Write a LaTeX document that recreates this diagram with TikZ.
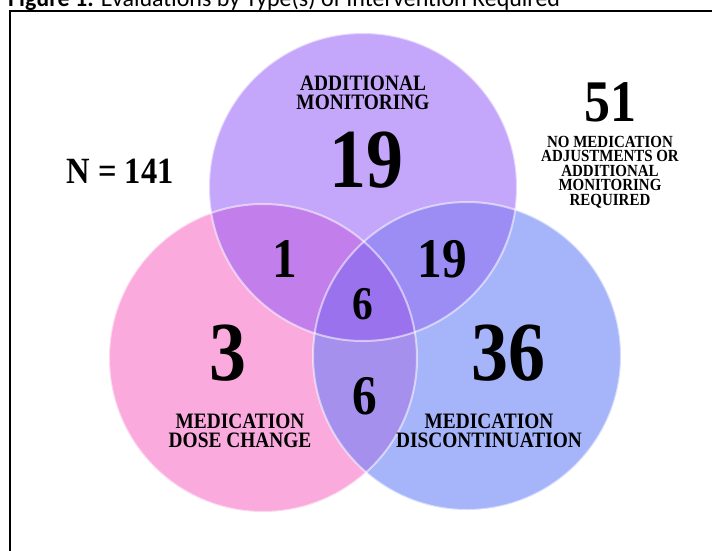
\documentclass[tikz,border=0pt]{standalone}
\usepackage{fontspec}
\setmainfont{Liberation Serif}
\newfontfamily\vennfont{Liberation Serif}[FakeStretch=0.88]
\newfontfamily\capfont{Carlito}
\usepackage{tikz}
\usetikzlibrary{positioning}
\definecolor{monc}{RGB}{196,166,250}
\definecolor{dosec}{RGB}{250,170,220}
\definecolor{discc}{RGB}{166,180,250}
\definecolor{mondose}{RGB}{194,126,234}
\definecolor{mondisc}{RGB}{156,141,245}
\definecolor{dosedisc}{RGB}{166,144,238}
\definecolor{allc}{RGB}{154,114,238}
\tikzset{
    bignum/.style={font=\vennfont\bfseries\fontsize{84}{84}\selectfont,inner sep=0pt},
    midnum/.style={font=\vennfont\bfseries\fontsize{56}{56}\selectfont,inner sep=0pt},
    lbl/.style={align=center,inner sep=0pt,font=\vennfont\bfseries\fontsize{22}{18.5}\selectfont},
    ring/.style={draw=white,draw opacity=0.55,line width=2pt},
}
\newcommand{\rad}{154}

\begin{document}
\begin{tikzpicture}[x=1pt,y=-1pt]
\useasboundingbox (0,0) rectangle (712,550);
\coordinate (cmon) at (363,187);
\coordinate (cdose) at (263,358);
\coordinate (cdisc) at (467,356);

% caption and frame
\node[anchor=base west,inner sep=0pt,font=\capfont\fontsize{24}{24}\selectfont] (title) at (8,6) {\textbf{Figure 1.} Evaluations by Type(s) of Intervention Required};
\draw[line width=2.5pt] (10,620) -- (10,11) -- (760,11);

% circles
\fill[dosec] (cdose) circle (\rad);
\fill[discc] (cdisc) circle (\rad);
\fill[monc] (cmon) circle (\rad);
\begin{scope}
  \clip (cmon) circle (\rad);
  \fill[mondose] (cdose) circle (\rad);
  \fill[mondisc] (cdisc) circle (\rad);
  \clip (cdose) circle (\rad);
  \fill[allc] (cdisc) circle (\rad);
\end{scope}
\begin{scope}[even odd rule]
  \clip (cdose) circle (\rad);
  \clip (0,0) rectangle (712,550) (cmon) circle (\rad);
  \fill[dosedisc] (cdisc) circle (\rad);
\end{scope}
\draw[ring] (cdose) circle (\rad);
\draw[ring] (cdisc) circle (\rad);
\draw[ring] (cmon) circle (\rad);

% counts
\node[lbl] (monlbl) at (363,93) {ADDITIONAL\\MONITORING};
\node[bignum] (mon) at (366,160) {19};
\node[bignum] (dose) at (228,353) {3};
\node[bignum] (disc) at (508,353) {36};
\node[midnum] (mondosen) at (285,259) {1};
\node[midnum] (mondiscn) at (442,259) {19};
\node[font=\vennfont\bfseries\fontsize{47}{47}\selectfont,inner sep=0pt] (alln) at (363,304) {6};
\node[midnum] (dosediscn) at (365,396) {6};
\node[lbl] (doselbl) at (240,431) {MEDICATION\\DOSE CHANGE};
\node[lbl] (disclbl) at (489,431) {MEDICATION\\DISCONTINUATION};

% outside the sets
\node[font=\vennfont\bfseries\fontsize{37}{37}\selectfont,inner sep=0pt] (total) at (120,171) {N = 141};
\node[font=\vennfont\bfseries\fontsize{59}{59}\selectfont,inner sep=0pt] (none) at (610,102) {51};
\node[align=center,inner sep=0pt,font=\vennfont\bfseries\fontsize{17}{14.5}\selectfont,below=14pt of none] (nonelbl) {NO MEDICATION\\ADJUSTMENTS OR\\ADDITIONAL\\MONITORING\\REQUIRED};
\end{tikzpicture}
\end{document}
